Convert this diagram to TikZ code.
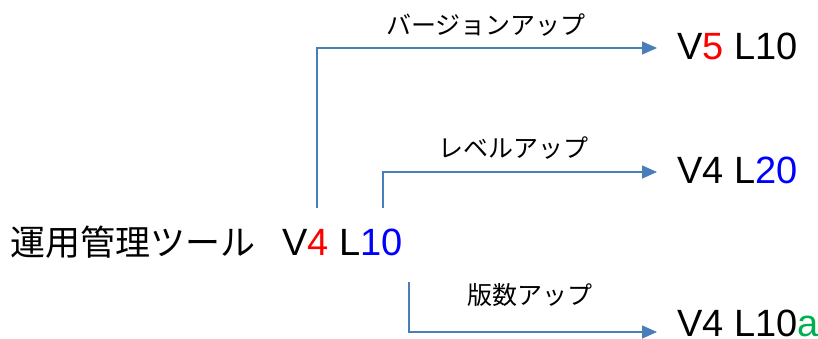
\documentclass[tikz,border=0pt]{standalone}
\usepackage{fontspec}
\setmainfont{Liberation Sans}
\newfontfamily\jp{Noto Sans CJK JP}
\usetikzlibrary{arrows.meta}
\definecolor{flowblue}{RGB}{74,126,187}
\definecolor{vgreen}{RGB}{0,176,80}
\begin{document}
\begin{tikzpicture}[x=1pt,y=-1pt,
	ver/.style={anchor=base west,inner sep=0pt,font=\fontsize{38}{44}\selectfont},
	lab/.style={inner sep=0pt,font=\jp\fontsize{25}{30}\selectfont},
	flow/.style={flowblue,line width=1.6pt,-{Triangle[length=15pt,width=13pt]}}]
				\useasboundingbox (0,0) rectangle (818,338);
				\node[ver] (tool) at (10,255) {{\jp\fontsize{35}{42}\selectfont 運用管理ツール}\hspace{27pt}V{\color{red}4} L{\color{blue}10}};
				\node[ver] (major) at (677,59) {V{\color{red}5} L10};
				\node[ver] (level) at (677,183) {V4 L{\color{blue}20}};
				\node[ver] (patch) at (677,336) {V4 L10{\color{vgreen}a}};
				\coordinate (s1) at (317,208);
				\coordinate (s2) at (383,208);
				\coordinate (s3) at (409,282);
				\coordinate (e1) at (657,48);
				\coordinate (e2) at (657,172);
				\coordinate (e3) at (657,332);
				\draw[flow] (s1) |- (e1);
				\draw[flow] (s2) |- (e2);
				\draw[flow] (s3) |- (e3);
				\node[lab] (l1) at (486,25) {バージョンアップ};
				\node[lab] (l2) at (513,148) {レベルアップ};
				\node[lab] (l3) at (530,295) {版数アップ};
\end{tikzpicture}
\end{document}
